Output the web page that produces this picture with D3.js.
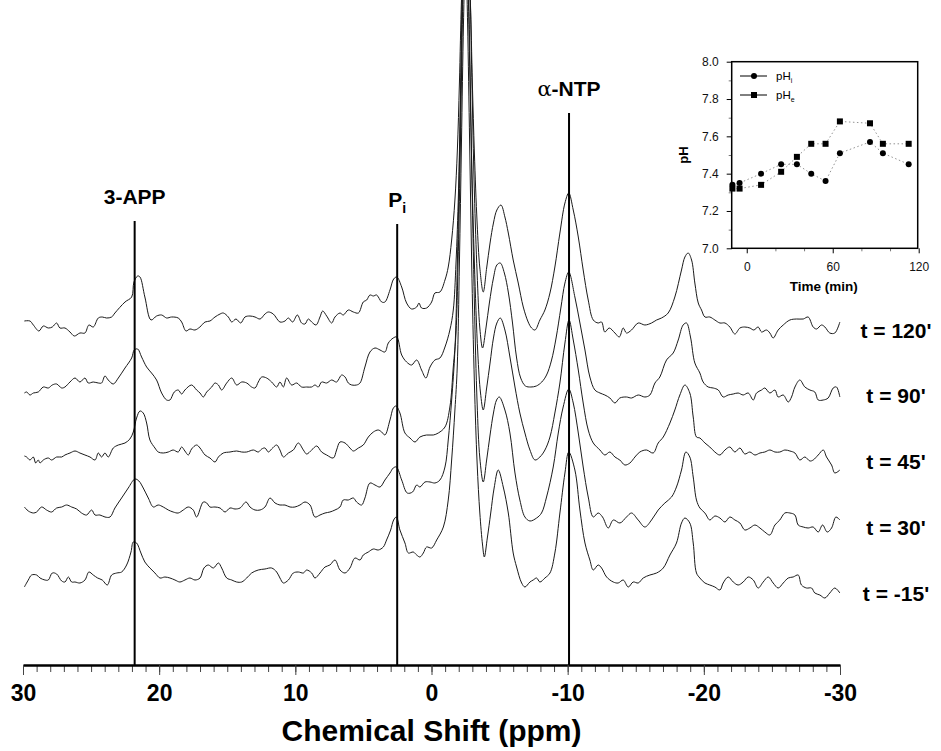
<!DOCTYPE html>
<html>
<head>
<meta charset="utf-8">
<script src="https://cdnjs.cloudflare.com/ajax/libs/d3/7.8.5/d3.min.js"></script>
<style>
html, body { margin: 0; padding: 0; background: #fff; }
svg text { font-family: Arial, "Liberation Sans", sans-serif; fill: #000; }
.spec { fill: none; stroke: #1a1a1a; stroke-width: 1; }
.marker-line { stroke: #000; stroke-width: 2; }
.x-axis .domain { stroke: #000; stroke-width: 2.5; }
.x-axis .tick line { stroke: #444; stroke-width: 1; }
.x-axis .tick text { font-size: 23px; font-weight: bold; }
.minor .domain { display: none; }
.inset .domain { display: none; }
.inset .tick line { stroke: #000; stroke-width: 1; }
.inset .tick text { font-size: 12px; fill: #111; }
.inset .minor-tick line { stroke: #777; }
</style>
</head>
<body>
<svg id="chart" width="941" height="751"></svg>
<script>

// 31P spectra, [ppm, intensity] (intensity in a.u., stack offset included)
var t120 = [[29.90,342],[29.49,342],[29.24,338],[28.83,332],[28.51,337],[28.14,335],[27.85,336],[27.53,340],[27.29,335],[26.92,335],[26.55,331],[26.23,327],[25.82,330],[25.45,330],[25.16,338],[24.84,336],[24.47,345],[24.18,346],[23.86,345],[23.49,346],[23.25,350],[22.51,361],[22.02,366],[21.85,381],[21.58,387],[21.41,386],[21.05,366],[20.60,343],[20.19,347],[19.82,348],[19.45,345],[19.09,346],[18.60,345],[18.35,341],[18.03,332],[17.74,334],[17.37,333],[17.01,336],
    [16.63,341],[16.27,342],[15.90,346],[15.53,349],[15.29,350],[14.92,346],[14.67,341],[14.36,344],[14.01,340],[13.70,346],[13.33,347],[12.96,346],[12.59,344],[12.23,349],[11.98,351],[11.62,349],[11.13,341],[10.76,342],[10.51,345],[10.20,341],[9.85,348],[9.54,340],[9.29,339],[9.05,344],[8.80,341],[8.48,338],[8.19,346],[7.99,352],[7.70,347],[7.33,340],[7.09,346],[6.72,350],[6.48,348],[6.11,353],[5.74,351],[5.37,350],[5.01,361],[4.76,363],[4.52,368],[4.27,367],[4.03,368],[3.66,361],[3.42,361],[3.05,373],[2.78,384],[2.55,386],
    [2.19,376],[1.83,360],[1.46,354],[1.09,356],[0.92,360],[0.73,355],[0.36,355],[-0.01,361],[-0.25,370],[-0.62,371],[-0.99,383],[-1.23,396],[-1.48,423],[-1.72,463],[-1.90,513],[-2.05,580],[-2.20,663],[-2.35,715],[-2.50,730],[-2.65,715],[-2.85,663],[-3.00,580],[-3.15,510],[-3.35,440],[-3.55,395],[-3.80,371],[-4.05,395],[-4.30,420],[-4.55,440],[-4.80,453],[-5.10,458],[-5.39,446],[-5.64,430],[-6.00,403],[-6.37,380],[-6.74,356],[-7.10,341],[-7.35,335],[-7.60,333],[-7.96,343],[-8.33,353],[-8.70,370],[-9.06,396],[-9.43,430],[-9.80,460],[-10.08,470],
    [-10.41,453],[-10.78,426],[-11.14,393],[-11.51,363],[-11.88,343],[-12.24,340],[-12.49,341],[-12.73,331],[-13.05,335],[-13.47,330],[-13.79,326],[-14.08,335],[-14.32,330],[-14.69,333],[-15.18,340],[-15.67,338],[-16.16,340],[-16.53,343],[-16.89,345],[-17.38,350],[-17.87,366],[-18.36,393],[-18.61,406],[-18.85,410],[-19.10,403],[-19.34,380],[-19.59,360],[-19.83,353],[-20.08,346],[-20.44,346],[-20.81,343],
    [-21.18,340],[-21.55,340],[-21.91,336],[-22.28,329],[-22.65,335],[-23.01,336],[-23.38,335],[-23.67,333],[-23.99,336],[-24.24,331],[-24.60,333],[-24.85,330],[-25.09,325],[-25.46,333],[-25.83,338],[-26.32,343],[-26.81,344],[-27.30,344],[-27.66,346],[-28.03,336],[-28.28,334],[-28.64,338],[-28.89,336],[-29.25,330],[-29.62,330],[-29.99,341]];

var t90 = [[29.90,270],[29.73,271],[29.49,268],[29.24,270],[28.88,271],[28.51,276],[28.14,275],[27.85,278],[27.53,279],[27.16,275],[26.92,276],[26.55,281],[26.18,285],[25.82,281],[25.45,285],[25.21,280],[24.84,281],[24.47,280],[24.23,280],[23.98,287],[23.74,283],[23.37,279],[23.00,285],[22.51,295],[22.02,305],[21.83,313],[21.58,314],[21.29,306],[20.92,296],[20.56,290],[20.19,283],[19.82,270],[19.45,263],[19.21,263],[18.89,271],[18.60,273],[18.35,269],[18.11,273],[17.62,278],[17.25,273],
    [17.00,270],[16.76,266],[16.51,271],[16.14,276],[15.90,280],[15.65,278],[15.41,273],[15.04,280],[14.67,285],[14.31,278],[13.94,281],[13.57,280],[13.21,276],[12.96,275],[12.72,281],[12.47,286],[12.11,285],[11.74,281],[11.37,276],[11.13,281],[10.88,276],[10.64,285],[10.27,278],[9.90,280],[9.54,276],[9.17,276],[8.80,276],[8.56,278],[8.31,276],[8.07,281],[7.70,280],[7.33,283],[6.97,281],[6.60,288],[6.35,286],[6.11,280],[5.86,278],[5.50,278],[5.25,280],[4.89,296],[4.52,311],[4.15,315],[3.78,313],[3.42,311],[3.17,320],[2.81,325],[2.55,326],
    [2.19,308],[1.83,301],[1.46,298],[1.09,303],[0.73,293],[0.41,285],[0.11,296],[-0.25,303],[-0.62,305],[-0.99,316],[-1.35,333],[-1.60,353],[-1.80,400],[-1.98,470],[-2.12,560],[-2.25,663],[-2.40,740],[-2.55,760],[-2.70,740],[-2.85,663],[-3.00,560],[-3.15,470],[-3.35,390],[-3.55,335],[-3.75,315],[-4.00,335],[-4.25,360],[-4.55,385],[-4.80,398],[-5.05,400],[-5.35,390],[-5.65,370],[-5.95,340],[-6.25,305],[-6.55,285],[-6.90,277],[-7.30,276],[-7.70,277],[-8.10,281],[-8.45,288],[-8.80,302],[-9.15,325],[-9.50,355],[-9.80,380],[-10.08,391],
    [-10.53,366],[-10.90,340],[-11.27,313],[-11.63,286],[-12.00,273],[-12.37,270],[-12.73,268],[-13.10,265],[-13.47,260],[-13.83,265],[-14.32,266],[-14.69,265],[-15.18,268],[-15.67,266],[-16.04,268],[-16.41,280],[-16.77,286],[-17.26,303],[-17.75,310],[-18.12,323],[-18.48,338],[-18.73,340],[-19.02,326],[-19.34,300],
    [-19.71,290],[-19.95,281],[-20.32,276],[-20.69,275],[-21.06,273],[-21.42,266],[-21.79,268],[-22.16,269],[-22.52,270],[-22.89,268],[-23.26,270],[-23.63,263],[-23.87,270],[-24.24,273],[-24.48,275],[-24.85,270],[-25.22,273],[-25.46,266],[-25.83,268],[-26.20,261],[-26.44,266],[-26.69,276],[-27.05,283],[-27.42,276],[-27.79,273],[-28.15,271],[-28.40,263],[-28.77,263],[-29.13,265],[-29.50,275],[-29.74,276],[-29.99,266]];

var t45 = [[29.90,207],[29.73,206],[29.49,203],[29.24,206],[29.07,200],[28.88,203],[28.75,200],[28.51,203],[28.14,205],[27.90,203],[27.53,206],[27.16,206],[26.92,208],[26.55,210],[26.18,212],[25.82,210],[25.45,208],[25.08,206],[24.71,203],[24.47,210],[24.23,206],[23.98,210],[23.74,206],[23.37,215],[23.00,218],[22.51,220],[22.15,224],[21.90,231],[21.66,245],[21.41,252],[21.17,250],[20.92,240],[20.68,223],[20.31,215],[20.07,211],[19.70,210],[19.33,211],[18.97,213],[18.60,211],[18.35,216],[18.11,212],[17.86,208],[17.62,214],[17.25,218],
    [17.00,215],[16.63,208],[16.27,205],[15.90,201],[15.65,206],[15.29,210],[14.80,211],[14.31,212],[13.94,211],[13.57,211],[13.08,213],[12.72,211],[12.47,214],[12.23,215],[11.98,211],[11.74,214],[11.37,218],[11.13,213],[10.88,206],[10.51,210],[10.15,213],[9.78,220],[9.41,213],[9.17,209],[8.80,213],[8.43,217],[8.07,211],[7.70,208],[7.21,205],[6.97,213],[6.72,221],[6.35,220],[5.99,215],[5.74,212],[5.37,215],[5.01,218],[4.64,226],[4.27,231],[3.91,233],[3.66,231],[3.42,228],[3.05,243],[2.80,255],[2.60,257],
    [2.32,250],[1.95,230],[1.58,225],[1.21,221],[0.85,226],[0.36,228],[-0.13,228],[-0.50,230],[-0.99,236],[-1.35,256],[-1.60,296],[-1.80,330],[-1.95,400],[-2.10,500],[-2.22,600],[-2.35,700],[-2.50,760],[-2.65,700],[-2.80,600],[-2.95,500],[-3.15,400],[-3.40,310],[-3.60,270],[-3.80,253],[-4.05,275],[-4.30,300],[-4.55,325],[-4.80,340],[-5.05,345],[-5.39,333],[-5.76,306],[-6.13,276],[-6.49,250],[-6.86,230],[-7.23,213],[-7.60,203],[-7.96,206],[-8.33,213],[-8.70,226],[-9.06,250],[-9.43,280],[-9.80,320],[-10.10,343],
    [-10.41,323],[-10.78,293],[-11.14,260],[-11.51,233],[-11.88,220],[-12.37,213],[-12.73,208],[-13.10,211],[-13.47,206],[-13.83,203],[-14.20,198],[-14.57,200],[-14.94,206],[-15.30,211],[-15.79,213],[-16.28,210],[-16.65,220],[-17.02,226],[-17.51,240],[-17.87,253],[-18.24,268],[-18.61,278],[-18.97,270],[-19.22,246],[-19.46,226],
    [-19.71,225],[-20.08,220],[-20.44,216],[-20.81,211],[-21.18,208],[-21.55,213],[-21.91,216],[-22.28,211],[-22.65,215],[-23.01,209],[-23.38,211],[-23.75,208],[-24.12,210],[-24.48,211],[-24.85,213],[-25.22,211],[-25.58,211],[-25.95,213],[-26.32,212],[-26.69,210],[-27.05,203],[-27.42,206],[-27.79,202],[-28.03,203],[-28.40,208],[-28.77,213],[-29.01,206],[-29.38,198],[-29.62,190],[-29.99,193]];

var t30 = [[29.90,156],[29.61,152],[29.24,150],[29.00,151],[28.63,156],[28.27,153],[27.90,151],[27.53,155],[27.16,156],[26.80,158],[26.43,156],[26.06,154],[25.70,150],[25.33,148],[24.96,153],[24.71,148],[24.35,148],[23.98,146],[23.61,146],[23.25,155],[22.76,165],[22.27,175],[21.78,184],[21.49,182],[21.17,175],[20.80,165],[20.43,156],[20.07,158],[19.70,156],[19.33,153],[18.97,151],[18.60,150],[18.23,153],[17.86,156],[17.50,153],[17.25,146],
    [16.76,161],[16.51,160],[16.27,156],[15.90,156],[15.53,155],[15.16,151],[14.80,155],[14.43,154],[14.06,155],[13.62,161],[13.33,156],[12.96,153],[12.59,153],[12.23,156],[11.86,165],[11.49,160],[11.13,158],[10.76,158],[10.39,156],[10.03,156],[9.66,158],[9.29,161],[8.92,158],[8.56,146],[8.19,148],[7.82,150],[7.46,151],[7.09,153],[6.72,156],[6.48,163],[6.11,163],[5.74,165],[5.50,161],[5.13,158],[4.89,165],[4.52,180],[4.15,178],[3.78,176],[3.42,183],[3.05,190],[2.81,195],[2.58,196],
    [2.19,183],[1.78,170],[1.39,171],[1.09,178],[0.85,176],[0.48,181],[0.11,181],[-0.25,180],[-0.62,183],[-0.99,196],[-1.23,223],[-1.48,263],[-1.72,313],[-1.90,400],[-2.05,500],[-2.20,620],[-2.35,720],[-2.50,760],[-2.65,720],[-2.80,620],[-2.95,500],[-3.15,360],[-3.35,260],[-3.55,205],[-3.80,181],[-4.05,203],[-4.30,228],[-4.55,250],[-4.78,263],[-4.98,266],[-5.39,253],[-5.76,230],[-6.13,190],[-6.49,163],[-6.86,146],[-7.23,142],[-7.72,145],[-8.08,150],[-8.45,166],[-8.94,196],[-9.31,230],[-9.67,256],[-10.08,274],
    [-10.41,260],[-10.78,230],[-11.14,196],[-11.51,166],[-11.88,146],[-12.24,150],[-12.56,146],[-12.98,135],[-13.35,143],[-13.84,140],[-14.32,146],[-14.69,150],[-15.18,143],[-15.67,136],[-16.16,143],[-16.65,153],[-17.14,160],[-17.63,166],[-17.99,176],[-18.36,193],[-18.68,211],[-18.97,206],[-19.22,186],[-19.46,163],
    [-19.71,155],[-20.08,150],[-20.44,143],[-20.81,147],[-21.18,145],[-21.55,141],[-21.91,146],[-22.28,143],[-22.65,140],[-23.01,133],[-23.38,135],[-23.75,138],[-24.12,135],[-24.48,131],[-24.85,128],[-25.22,138],[-25.58,143],[-25.95,150],[-26.32,150],[-26.69,148],[-26.93,138],[-27.30,136],[-27.66,135],[-28.03,136],[-28.40,131],[-28.72,138],[-29.06,131],[-29.38,135],[-29.70,146],[-29.99,143]];

var tm15 = [[29.90,76],[29.61,83],[29.37,88],[29.00,88],[28.75,85],[28.39,83],[28.14,83],[27.85,90],[27.53,89],[27.16,82],[26.92,81],[26.67,86],[26.43,81],[26.18,81],[25.82,80],[25.45,83],[25.16,91],[24.84,88],[24.52,85],[24.18,83],[23.81,78],[23.49,88],[23.12,90],[22.76,91],[22.39,98],[22.07,111],[21.90,121],[21.66,120],[21.34,110],[21.05,101],[20.68,95],[20.31,90],[19.94,85],[19.58,86],[19.21,85],[18.84,83],[18.48,81],[18.11,83],[17.74,85],[17.37,83],
    [17.00,85],[16.71,95],[16.39,98],[16.02,95],[15.65,100],[15.41,95],[15.04,85],[14.67,83],[14.31,81],[13.94,81],[13.57,85],[13.21,90],[12.72,93],[12.23,94],[11.74,95],[11.37,91],[11.13,85],[10.88,80],[10.51,83],[10.15,90],[9.78,91],[9.41,90],[9.17,93],[8.80,90],[8.56,85],[8.19,90],[7.82,96],[7.46,98],[7.09,103],[6.72,93],[6.35,90],[5.99,95],[5.62,105],[5.25,103],[5.01,108],[4.64,111],[4.27,114],[3.91,113],[3.54,116],[3.30,123],[3.00,133],[2.78,143],[2.58,146],
    [2.32,133],[1.95,120],[1.70,110],[1.34,111],[1.09,108],[0.85,106],[0.60,110],[0.36,116],[-0.01,115],[-0.38,123],[-0.87,136],[-1.23,163],[-1.48,203],[-1.72,253],[-1.89,296],[-2.05,400],[-2.20,520],[-2.35,640],[-2.50,720],[-2.65,640],[-2.80,520],[-2.95,400],[-3.15,280],[-3.35,200],[-3.55,150],[-3.75,118],[-3.88,106],[-4.10,125],[-4.35,150],[-4.60,175],[-4.90,193],[-5.27,176],[-5.64,150],[-6.00,110],[-6.25,96],[-6.62,80],[-6.86,76],[-7.23,81],[-7.47,83],[-7.72,85],[-7.96,81],[-8.33,85],[-8.70,90],[-9.06,110],[-9.43,150],[-9.80,190],[-10.08,211],
    [-10.53,193],[-10.90,153],[-11.27,120],[-11.63,103],[-11.88,93],[-12.24,98],[-12.49,95],[-12.86,86],[-13.35,81],[-13.71,80],[-14.08,83],[-14.45,76],[-14.81,81],[-15.18,80],[-15.55,85],[-16.04,88],[-16.53,90],[-17.02,95],[-17.51,108],[-17.99,120],[-18.36,140],[-18.61,145],[-18.97,140],[-19.22,120],[-19.46,90],
    [-19.71,85],[-20.08,80],[-20.44,78],[-20.81,76],[-21.18,73],[-21.42,80],[-21.79,86],[-22.16,81],[-22.52,78],[-22.89,81],[-23.26,86],[-23.63,83],[-23.99,75],[-24.36,81],[-24.73,86],[-25.09,80],[-25.46,75],[-25.83,80],[-26.20,85],[-26.56,86],[-26.93,88],[-27.17,78],[-27.54,75],[-27.91,75],[-28.15,70],[-28.52,68],[-28.89,65],[-29.25,70],[-29.62,75],[-29.99,70]];

var spectra = [t120, t90, t45, t30, tm15];
var timeLabels = ["t = 120'", "t = 90'", "t = 45'", "t = 30'", "t = -15'"];

// peak assignments: name, chemical shift (ppm), top of the marker line (a.u.)
var markerNames = ["3-APP", "P", "\u03b1-NTP"];
var markerSubs = ["", "i", ""];
var markerShift = [21.8, 2.52, -10.1];
var markerTop = [442, 439, 550];

// inset: pH vs time
var insetTime = [-10, -5, 10, 24, 35, 45, 55, 65, 86, 95, 113];
var pHi = [7.34, 7.35, 7.40, 7.45, 7.45, 7.40, 7.36, 7.51, 7.57, 7.51, 7.45];
var pHe = [7.32, 7.32, 7.34, 7.41, 7.49, 7.56, 7.56, 7.68, 7.67, 7.56, 7.56];
var insetYTicks = [7.0, 7.2, 7.4, 7.6, 7.8, 8.0];
var insetYMinor = [7.1, 7.3, 7.5, 7.7, 7.9];
var insetXTicks = [0, 60, 120];
var insetXMinor = [20, 40, 80, 100];

var svg = d3.select('#chart');

var axisY = 665;

var x = d3.scaleLinear().domain([30, -30]).range([23, 840]);
var y = d3.scaleLinear().domain([0, 663]).range([663, 0]);

var line = d3.line()
    .x(function(d) { return x(d[0]); })
    .y(function(d) { return y(d[1]); })
    .curve(d3.curveCatmullRom.alpha(0.5));

// Spectra
svg.append('g')
    .selectAll('path')
    .data(spectra)
    .join('path')
    .attr('class', 'spec')
    .attr('d', line);

// Marker lines and labels
var markers = svg.append('g').selectAll('g')
    .data(markerNames)
    .join('g');

markers.append('line')
    .attr('class', 'marker-line')
    .attr('x1', function(d, i) { return x(markerShift[i]); })
    .attr('x2', function(d, i) { return x(markerShift[i]); })
    .attr('y1', function(d, i) { return y(markerTop[i]); })
    .attr('y2', axisY);

var mText = markers.append('text')
    .attr('x', function(d, i) { return x(markerShift[i]); })
    .attr('y', function(d, i) { return y(markerTop[i]) - 17; })
    .attr('text-anchor', 'middle')
    .style('font-size', '21px')
    .style('font-weight', 'bold');

mText.each(function(d, i) {
    var t = d3.select(this);
    if (d.charAt(0) === '\u03b1') {
        t.append('tspan').text('\u03b1')
            .style('font-weight', 'normal')
            .style('font-family', '"DejaVu Serif", "Liberation Serif", serif');
        t.append('tspan').text(d.slice(1));
    } else {
        t.append('tspan').text(d);
    }
    if (markerSubs[i]) {
        t.append('tspan').text(markerSubs[i])
            .attr('dy', 6)
            .style('font-size', '14px');
    }
});

// Time labels at right
var labelY = d3.scalePoint().domain(timeLabels).range([330, 593]);

svg.append('g').selectAll('text')
    .data(timeLabels)
    .join('text')
    .attr('x', 896)
    .attr('y', function(d) { return labelY(d); })
    .attr('dy', '0.36em')
    .attr('text-anchor', 'middle')
    .style('font-size', '21px')
    .style('font-weight', 'bold')
    .text(function(d) { return d; });

// X axis
svg.append('g')
    .attr('class', 'x-axis minor')
    .attr('transform', 'translate(0,' + axisY + ')')
    .call(d3.axisBottom(x).tickValues(d3.range(-30, 31)).tickSize(7).tickSizeOuter(0).tickFormat(''));

svg.append('g')
    .attr('class', 'x-axis')
    .attr('transform', 'translate(0,' + axisY + ')')
    .call(d3.axisBottom(x).tickValues(d3.range(-30, 31, 10)).tickSize(10).tickSizeOuter(0)
        .tickPadding(10).tickFormat(function(d) { return String(d); }));

svg.append('text')
    .attr('x', (x.range()[0] + x.range()[1]) / 2)
    .attr('y', 741)
    .attr('text-anchor', 'middle')
    .style('font-size', '30px')
    .style('font-weight', 'bold')
    .text('Chemical Shift (ppm)');

// Inset
var box = {left: 731.7, right: 917.7, top: 61.7, bottom: 248.3};
var xIn = d3.scaleLinear().domain([-10.5, 119.3]).range([box.left, box.right]);
var yIn = d3.scaleLinear().domain([7.0, 8.0]).range([box.bottom, box.top]);

var inset = svg.append('g').attr('class', 'inset');

inset.append('g')
    .attr('transform', 'translate(' + box.left + ',0)')
    .call(d3.axisLeft(yIn).tickValues(insetYTicks).tickSize(5).tickPadding(8)
        .tickFormat(d3.format('.1f')));

inset.append('g')
    .attr('class', 'minor-tick')
    .attr('transform', 'translate(' + box.left + ',0)')
    .call(d3.axisLeft(yIn).tickValues(insetYMinor).tickSize(3).tickFormat(''));

inset.append('g')
    .attr('transform', 'translate(0,' + box.bottom + ')')
    .call(d3.axisBottom(xIn).tickValues(insetXTicks).tickSize(5).tickPadding(9)
        .tickFormat(d3.format('d')));

inset.append('g')
    .attr('class', 'minor-tick')
    .attr('transform', 'translate(0,' + box.bottom + ')')
    .call(d3.axisBottom(xIn).tickValues(insetXMinor).tickSize(3).tickFormat(''));

var ptLine = function(vals) {
    return d3.line()
        .x(function(d, i) { return xIn(insetTime[i]); })
        .y(function(d) { return yIn(d); })(vals);
};

inset.selectAll('path.ph-line')
    .data([pHi, pHe])
    .join('path')
    .attr('class', 'ph-line')
    .attr('d', ptLine)
    .attr('fill', 'none')
    .attr('stroke', '#777')
    .attr('stroke-width', 0.8)
    .attr('stroke-dasharray', '1.5,2.5');

inset.selectAll('circle.pt')
    .data(pHi)
    .join('circle')
    .attr('class', 'pt')
    .attr('cx', function(d, i) { return xIn(insetTime[i]); })
    .attr('cy', function(d) { return yIn(d); })
    .attr('r', 3)
    .attr('fill', '#000');

inset.selectAll('rect.pt')
    .data(pHe)
    .join('rect')
    .attr('class', 'pt')
    .attr('x', function(d, i) { return xIn(insetTime[i]) - 3; })
    .attr('y', function(d) { return yIn(d) - 3; })
    .attr('width', 6)
    .attr('height', 6)
    .attr('fill', '#000');

inset.append('rect')
    .attr('x', box.left)
    .attr('y', box.top)
    .attr('width', box.right - box.left)
    .attr('height', box.bottom - box.top)
    .attr('fill', 'none')
    .attr('stroke', '#000')
    .attr('stroke-width', 1.5);

inset.append('text')
    .attr('transform', 'translate(688,155) rotate(-90)')
    .attr('text-anchor', 'middle')
    .style('font-size', '13px')
    .style('font-weight', 'bold')
    .text('pH');

inset.append('text')
    .attr('x', (box.left + box.right) / 2 - 1)
    .attr('y', 291)
    .attr('text-anchor', 'middle')
    .style('font-size', '13.5px')
    .style('font-weight', 'bold')
    .text('Time (min)');

// Inset legend
var legend = inset.selectAll('g.leg')
    .data(['i', 'e'])
    .join('g')
    .attr('class', 'leg')
    .attr('transform', function(d, i) { return 'translate(0,' + (76 + i * 19) + ')'; });

legend.append('line')
    .attr('x1', 740).attr('x2', 767)
    .attr('stroke', '#000').attr('stroke-width', 1);

legend.each(function(d, i) {
    var g = d3.select(this);
    if (i === 0) g.append('circle').attr('cx', 754).attr('r', 3).attr('fill', '#000');
    else g.append('rect').attr('x', 751).attr('y', -3).attr('width', 6).attr('height', 6).attr('fill', '#000');
    var t = g.append('text').attr('x', 776).attr('y', 4).style('font-size', '11.5px');
    t.append('tspan').text('pH');
    t.append('tspan').text(d).attr('dy', 3).style('font-size', '7px');
});

</script>
</body>
</html>
